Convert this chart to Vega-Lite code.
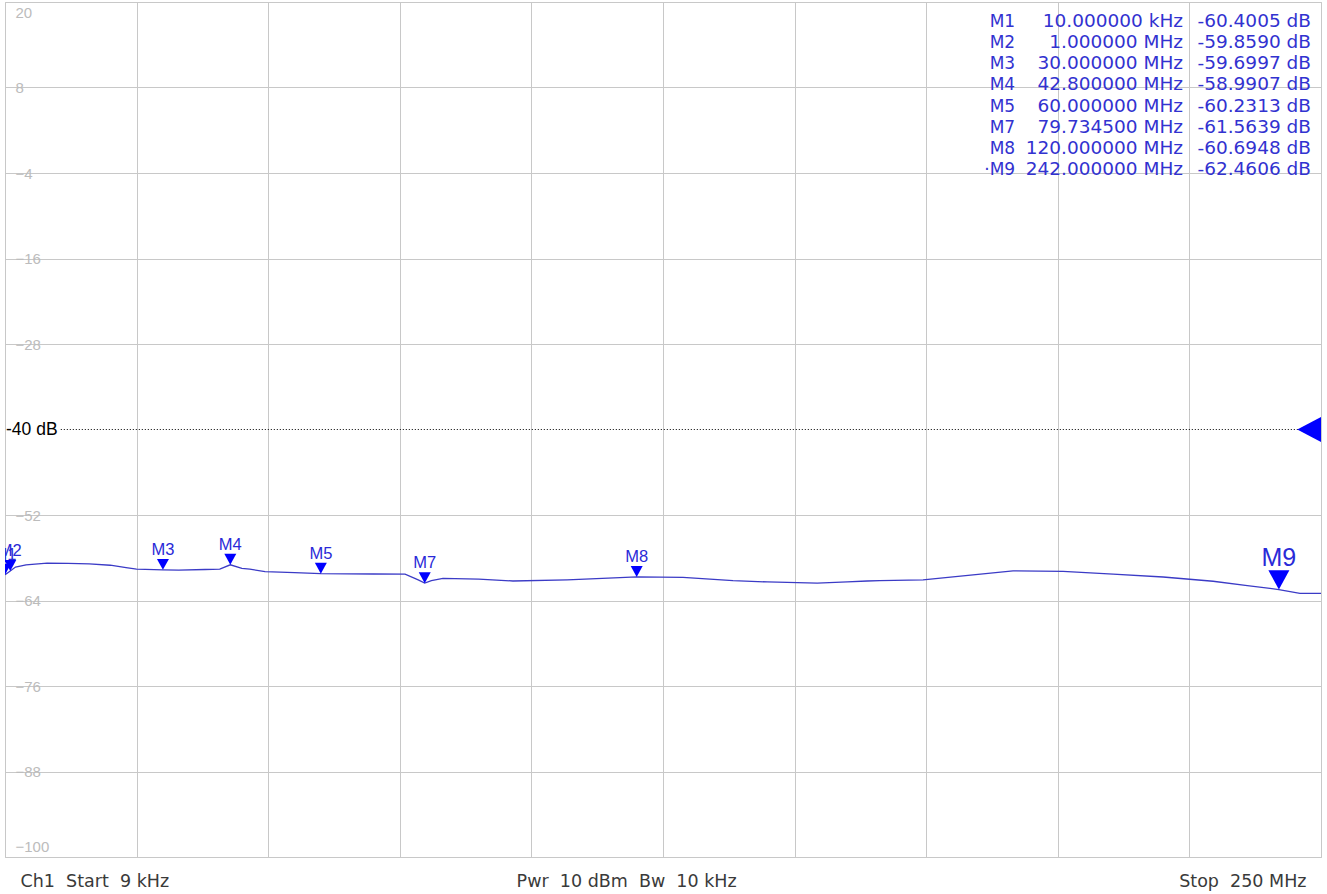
{
  "$schema": "https://vega.github.io/schema/vega-lite/v6.json",
  "autosize": {"type": "none"},
  "width": 1316,
  "height": 855,
  "padding": {"left": 5, "top": 2, "right": 6, "bottom": 37},
  "background": "white",
  "config": {
    "view": {"stroke": "#c4c4c4", "strokeWidth": 1},
    "axis": {"gridColor": "#c8c8c8", "gridWidth": 1, "domain": false, "ticks": false}
  },
  "datasets": {
    "trace": [
      {"f": 0.009, "db": -60.40}, {"f": 1, "db": -59.86}, {"f": 2, "db": -59.3}, {"f": 4, "db": -59.0},
      {"f": 8, "db": -58.75}, {"f": 12, "db": -58.8}, {"f": 16, "db": -58.85}, {"f": 20, "db": -59.05},
      {"f": 23, "db": -59.4}, {"f": 25, "db": -59.6}, {"f": 30, "db": -59.70}, {"f": 33, "db": -59.75},
      {"f": 38, "db": -59.65}, {"f": 40.8, "db": -59.6}, {"f": 42.8, "db": -58.99}, {"f": 45, "db": -59.5},
      {"f": 46.5, "db": -59.6}, {"f": 49.4, "db": -59.95}, {"f": 55, "db": -60.1}, {"f": 60, "db": -60.23},
      {"f": 70, "db": -60.28}, {"f": 76, "db": -60.3}, {"f": 78.5, "db": -61.1}, {"f": 79.73, "db": -61.56},
      {"f": 81, "db": -61.2}, {"f": 83.2, "db": -60.9}, {"f": 90, "db": -61.0}, {"f": 96.5, "db": -61.26},
      {"f": 106.8, "db": -61.1}, {"f": 116.8, "db": -60.8}, {"f": 120, "db": -60.69}, {"f": 128.8, "db": -60.75},
      {"f": 138.3, "db": -61.2}, {"f": 144.8, "db": -61.4}, {"f": 154.3, "db": -61.56}, {"f": 160, "db": -61.4},
      {"f": 163.8, "db": -61.26}, {"f": 166.2, "db": -61.2}, {"f": 174.4, "db": -61.1}, {"f": 182, "db": -60.55},
      {"f": 191.5, "db": -59.85}, {"f": 201, "db": -59.9}, {"f": 210.5, "db": -60.3}, {"f": 220, "db": -60.7},
      {"f": 229.5, "db": -61.3}, {"f": 236, "db": -61.9}, {"f": 242, "db": -62.46}, {"f": 246, "db": -63.0},
      {"f": 250, "db": -63.0}
    ],
    "markers": [
      {"name": "M1", "tname": "M1", "f": 0.01, "db": -60.4005, "ftext": "10.000000 kHz", "dbtext": "-60.4005 dB"},
      {"name": "M2", "tname": "M2", "f": 1, "db": -59.859, "ftext": "1.000000 MHz", "dbtext": "-59.8590 dB"},
      {"name": "M3", "tname": "M3", "f": 30, "db": -59.6997, "ftext": "30.000000 MHz", "dbtext": "-59.6997 dB"},
      {"name": "M4", "tname": "M4", "f": 42.8, "db": -58.9907, "ftext": "42.800000 MHz", "dbtext": "-58.9907 dB"},
      {"name": "M5", "tname": "M5", "f": 60, "db": -60.2313, "ftext": "60.000000 MHz", "dbtext": "-60.2313 dB"},
      {"name": "M7", "tname": "M7", "f": 79.7345, "db": -61.5639, "ftext": "79.734500 MHz", "dbtext": "-61.5639 dB"},
      {"name": "M8", "tname": "M8", "f": 120, "db": -60.6948, "ftext": "120.000000 MHz", "dbtext": "-60.6948 dB"},
      {"name": "M9", "tname": "·M9", "f": 242, "db": -62.4606, "ftext": "242.000000 MHz", "dbtext": "-62.4606 dB"}
    ]
  },
  "layer": [
    {
      "layer": [
        {
          "data": {"name": "trace"},
          "mark": {"type": "line", "color": "#3b3bc6", "strokeWidth": 1.3, "clip": true, "interpolate": "linear"},
          "encoding": {
            "x": {
              "field": "f", "type": "quantitative", "title": null,
              "scale": {"domain": [0, 250], "nice": false, "zero": false},
              "axis": {
                "values": [0, 25, 50, 75, 100, 118, 125, 150, 175, 200, 225, 250],
                "gridOpacity": {"condition": {"test": "datum.value == 118", "value": 0}, "value": 1},
                "labelExpr": "datum.value == 0 ? 'Ch1\u00a0 Start\u00a0 9 kHz' : datum.value == 118 ? 'Pwr\u00a0 10 dBm\u00a0 Bw\u00a0 10 kHz' : datum.value == 250 ? 'Stop\u00a0 250 MHz' : ''",
                "labelFont": "DejaVu Sans", "labelFontSize": 17.5, "labelColor": "#3a3a3a",
                "labelFlush": true, "labelFlushOffset": -15, "labelPadding": 15,
                "labelOverlap": false, "labelBound": false, "labelLimit": 0
              }
            },
            "y": {
              "field": "db", "type": "quantitative", "title": null,
              "scale": {"domain": [-100, 20], "nice": false, "zero": false},
              "axis": {
                "values": [20, 8, -4, -16, -28, -52, -64, -76, -88, -100],
                "labelAlign": "left", "labelPadding": -10,
                "labelFont": "Liberation Sans", "labelFontSize": 15, "labelColor": "#bcbcbc",
                "labelFlush": true, "labelFlushOffset": -3, "labelOverlap": false
              }
            }
          }
        },
        {
          "data": {"values": [{"t": "-40 dB"}]},
          "mark": {"type": "rule", "color": "#000000", "strokeWidth": 1, "strokeDash": [1, 2]},
          "encoding": {
            "x": {"datum": 10.6, "type": "quantitative", "title": null},
            "x2": {"datum": 250},
            "y": {"datum": -40, "type": "quantitative", "title": null}
          }
        },
        {
          "data": {"values": [{"t": "-40 dB"}]},
          "mark": {"type": "text", "align": "left", "baseline": "middle", "dx": 1, "font": "Liberation Sans", "fontSize": 17.5, "color": "#000000"},
          "encoding": {
            "x": {"datum": 0, "type": "quantitative", "title": null},
            "y": {"datum": -40, "type": "quantitative", "title": null},
            "text": {"field": "t"}
          }
        },
        {
          "data": {"values": [{"t": "ref"}]},
          "mark": {"type": "point", "shape": "M0,-1L0,1L-1.9,0Z", "filled": true, "color": "#0000ff", "opacity": 1, "size": 625, "strokeWidth": 0},
          "encoding": {
            "x": {"datum": 250, "type": "quantitative", "title": null},
            "y": {"datum": -40, "type": "quantitative", "title": null}
          }
        },
        {
          "data": {"name": "markers"},
          "transform": [{"filter": "datum.name != 'M9'"}],
          "mark": {"type": "point", "shape": "M-1,-1.83L1,-1.83L0,0Z", "filled": true, "color": "#0000ff", "opacity": 1, "size": 144, "strokeWidth": 0, "clip": true},
          "encoding": {
            "x": {"field": "f", "type": "quantitative", "title": null},
            "y": {"field": "db", "type": "quantitative", "title": null}
          }
        },
        {
          "data": {"name": "markers"},
          "transform": [{"filter": "datum.name == 'M9'"}],
          "mark": {"type": "point", "shape": "M-1,-1.83L1,-1.83L0,0Z", "filled": true, "color": "#0000ff", "opacity": 1, "size": 441, "strokeWidth": 0, "clip": true},
          "encoding": {
            "x": {"field": "f", "type": "quantitative", "title": null},
            "y": {"field": "db", "type": "quantitative", "title": null}
          }
        },
        {
          "data": {"name": "markers"},
          "transform": [{"filter": "datum.name != 'M9'"}],
          "mark": {"type": "text", "align": "center", "baseline": "alphabetic", "dy": -15, "font": "Liberation Sans", "fontSize": 16.5, "color": "#2a2ad8", "clip": true},
          "encoding": {
            "x": {"field": "f", "type": "quantitative", "title": null},
            "y": {"field": "db", "type": "quantitative", "title": null},
            "text": {"field": "name"}
          }
        },
        {
          "data": {"name": "markers"},
          "transform": [{"filter": "datum.name == 'M9'"}],
          "mark": {"type": "text", "align": "center", "baseline": "alphabetic", "dy": -23.5, "font": "Liberation Sans", "fontSize": 25, "color": "#2a2ad8", "clip": true},
          "encoding": {
            "x": {"field": "f", "type": "quantitative", "title": null},
            "y": {"field": "db", "type": "quantitative", "title": null},
            "text": {"field": "name"}
          }
        }
      ]
    },
    {
      "data": {"name": "markers"},
      "encoding": {
        "y": {
          "field": "tname", "type": "ordinal", "sort": null, "axis": null,
          "scale": {"type": "point", "range": [25, 173], "padding": 0}
        }
      },
      "layer": [
        {
          "mark": {"type": "text", "align": "right", "baseline": "alphabetic", "font": "DejaVu Sans", "fontSize": 17, "color": "#3232d0"},
          "encoding": {
            "x": {"datum": 191.9, "type": "quantitative", "scale": {"domain": [0, 250], "nice": false, "zero": false}, "axis": null},
            "text": {"field": "tname"}
          }
        },
        {
          "mark": {"type": "text", "align": "right", "baseline": "alphabetic", "font": "DejaVu Sans", "fontSize": 18.5, "color": "#3232d0"},
          "encoding": {
            "x": {"datum": 223.8, "type": "quantitative", "scale": {"domain": [0, 250], "nice": false, "zero": false}, "axis": null},
            "text": {"field": "ftext"}
          }
        },
        {
          "mark": {"type": "text", "align": "right", "baseline": "alphabetic", "font": "DejaVu Sans", "fontSize": 18.5, "color": "#3232d0"},
          "encoding": {
            "x": {"datum": 248.1, "type": "quantitative", "scale": {"domain": [0, 250], "nice": false, "zero": false}, "axis": null},
            "text": {"field": "dbtext"}
          }
        }
      ]
    }
  ],
  "resolve": {"scale": {"x": "independent", "y": "independent"}}
}
